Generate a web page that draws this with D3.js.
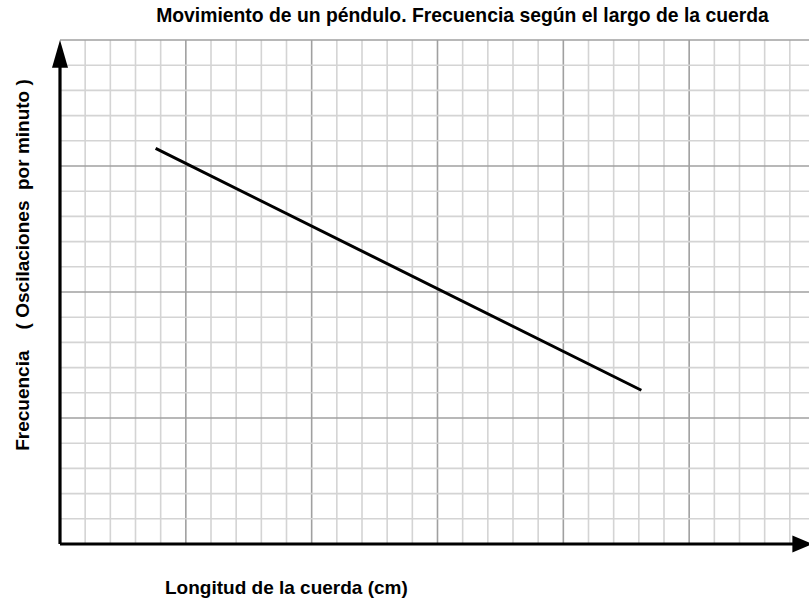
<!DOCTYPE html>
<html>
<head>
<meta charset="utf-8">
<script src="https://cdn.jsdelivr.net/npm/d3@7"></script>
<style>
  body { margin: 0; background: #fff; }
  text { font-family: "Liberation Sans", Arial, sans-serif; font-weight: bold; fill: #000; }
</style>
</head>
<body>
<div id="wrapper"></div>
<script>
// data: string length (grid units) vs frequency (grid units)
const lengthValues = [3.8, 23.1]
const frequencyValues = [15.7, 6.1]
const titleText = "Movimiento de un péndulo. Frecuencia según el largo de la cuerda"
const xLabelText = "Longitud de la cuerda (cm)"
const yLabelText = "Frecuencia    ( Oscilaciones  por minuto )"

const dataset = lengthValues.map((d, i) => ({ x: d, y: frequencyValues[i] }))

const dimensions = {
    width: 809,
    height: 599,
    margin: { top: 40, right: -6, bottom: 55, left: 60 },
}
dimensions.boundedWidth = dimensions.width - dimensions.margin.left - dimensions.margin.right
dimensions.boundedHeight = dimensions.height - dimensions.margin.top - dimensions.margin.bottom

const svg = d3.select("#wrapper").append("svg")
    .attr("width", dimensions.width)
    .attr("height", dimensions.height)

const bounds = svg.append("g")
    .attr("transform", `translate(${dimensions.margin.left},${dimensions.margin.top})`)

// 30 columns x 20 rows of small squares
const xScale = d3.scaleLinear().domain([0, 30]).range([0, dimensions.boundedWidth])
const yScale = d3.scaleLinear().domain([0, 20]).range([dimensions.boundedHeight, 0])

// grid
const grid = bounds.append("g")
grid.selectAll(".vline")
    .data(d3.range(1, 31))
    .join("line")
    .attr("x1", d => xScale(d)).attr("x2", d => xScale(d))
    .attr("y1", 0).attr("y2", dimensions.boundedHeight)
    .attr("stroke", d => d % 5 == 0 ? "#a0a0a0" : "#d4d4d4")
    .attr("stroke-width", 1.6)
grid.selectAll(".hline")
    .data(d3.range(1, 21))
    .join("line")
    .attr("x1", 0).attr("x2", dimensions.boundedWidth)
    .attr("y1", d => yScale(d)).attr("y2", d => yScale(d))
    .attr("stroke", d => d % 5 == 0 ? "#a0a0a0" : "#d4d4d4")
    .attr("stroke-width", 1.6)

// axes with arrows
const axes = bounds.append("g")
axes.append("line")
    .attr("x1", 0).attr("x2", 0)
    .attr("y1", yScale(0)).attr("y2", yScale(19))
    .attr("stroke", "#000").attr("stroke-width", 3.2)
axes.append("path")
    .attr("d", `M0,${yScale(20)} L-8,${yScale(18.9)} L8,${yScale(18.9)} Z`)
    .attr("fill", "#000")
axes.append("line")
    .attr("x1", 0).attr("x2", xScale(29.2))
    .attr("y1", yScale(0)).attr("y2", yScale(0))
    .attr("stroke", "#000").attr("stroke-width", 3.2)
axes.append("path")
    .attr("d", `M${xScale(29.9)},${yScale(0)} L${xScale(29.1)},${yScale(0) - 8.5} L${xScale(29.1)},${yScale(0) + 8.5} Z`)
    .attr("fill", "#000")

// data line
const lineGenerator = d3.line()
    .x(d => xScale(d.x))
    .y(d => yScale(d.y))
bounds.append("path")
    .datum(dataset)
    .attr("d", lineGenerator)
    .attr("fill", "none")
    .attr("stroke", "#000")
    .attr("stroke-width", 3)

// labels
svg.append("text")
    .attr("x", 462.5)
    .attr("y", 22)
    .attr("text-anchor", "middle")
    .style("font-size", "19.35px")
    .text(titleText)

svg.append("text")
    .attr("x", 165)
    .attr("y", 594)
    .style("font-size", "19px")
    .text(xLabelText)

svg.append("text")
    .attr("transform", "translate(29,265) rotate(-90)")
    .attr("text-anchor", "middle")
    .attr("xml:space", "preserve")
    .style("white-space", "pre")
    .style("font-size", "19px")
    .text(yLabelText)
</script>
</body>
</html>
